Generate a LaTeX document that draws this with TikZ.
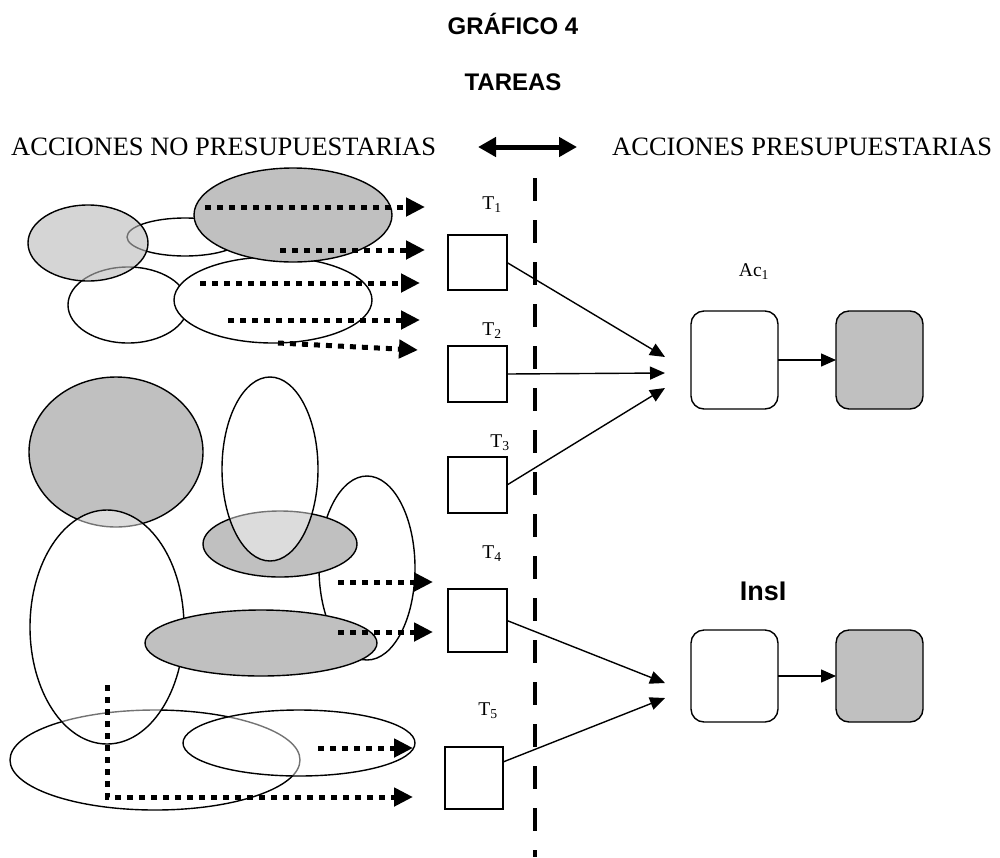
\documentclass[tikz,border=0pt]{standalone}
\usepackage{fontspec}
\setmainfont{Liberation Serif}
\newfontfamily\arialfont{Liberation Sans}
\usetikzlibrary{arrows.meta,calc}
\definecolor{shade}{RGB}{192,192,192}
\definecolor{stip}{RGB}{185,185,185}
\tikzset{
  blob/.style={draw=black, line width=1.4pt, fill=white},
  greyblob/.style={draw=black, line width=1.4pt, fill=shade},
  haze/.style={draw=black, line width=1.4pt, fill=white, fill opacity=0.45},
  stipblob/.style={draw=black, line width=1.4pt, fill=stip, fill opacity=0.6},
  dotarrow/.style={line width=5pt, dash pattern=on 6pt off 6pt,
    -{Triangle[length=19pt,width=18pt]}},
  solidarrow/.style={line width=1.4pt, -{Triangle[length=15pt,width=13pt]}},
  divider/.style={line width=4pt, dash pattern=on 23pt off 19pt},
  taskbox/.style={draw=black, line width=1.4pt, fill=white, inner sep=0pt, outer sep=0pt},
  actbox/.style={draw=black, line width=1.4pt, rounded corners=13pt, inner sep=0pt,
    outer sep=0pt, minimum width=87pt},
  tlabel/.style={anchor=base, inner sep=0pt, font=\fontsize{19.5}{22}\selectfont},
  heading/.style={anchor=base, inner sep=0pt, font=\arialfont\bfseries\fontsize{24}{28}\selectfont},
  side/.style={inner sep=0pt, font=\fontsize{26.5}{30}\selectfont}
}
\begin{document}
\begin{tikzpicture}[x=1pt,y=-1pt]
\useasboundingbox (0,0) rectangle (1000,857);

% headings
\node[heading] (title) at (513,34) {GRÁFICO 4};
\node[heading] (sub) at (513,90) {TAREAS};
\node[side, anchor=base west] (nopres) at (11,155) {ACCIONES NO PRESUPUESTARIAS};
\node[side, anchor=base west] (pres) at (612,155) {ACCIONES PRESUPUESTARIAS};
\coordinate (dl) at (478,147);
\coordinate (dr) at (577,147);
\draw[line width=5pt, {Triangle[length=18pt,width=19pt]}-{Triangle[length=18pt,width=19pt]}] (dl) -- (dr);

% upper group of sets
\draw[blob] (185,237) ellipse [x radius=58, y radius=19];
\draw[blob] (128,305) ellipse [x radius=60, y radius=38];
\draw[blob] (273,300) ellipse [x radius=99, y radius=43];
\draw[greyblob] (293,215) ellipse [x radius=99, y radius=47];
\draw[stipblob] (88,243) ellipse [x radius=60, y radius=38];

% middle and lower groups of sets
\draw[greyblob] (116,452) ellipse [x radius=87, y radius=75];
\draw[blob] (155,760) ellipse [x radius=145, y radius=50];
\draw[blob] (367,568) ellipse [x radius=48, y radius=92];
\draw[greyblob] (280,544) ellipse [x radius=77, y radius=33];
\draw[haze] (270,469) ellipse [x radius=48, y radius=92];
\draw[haze] (107,627) ellipse [x radius=77, y radius=117];
\draw[haze] (299,743) ellipse [x radius=116, y radius=33];
\draw[greyblob] (261,643) ellipse [x radius=116, y radius=33];

% divider between the two kinds of actions
\coordinate (vtop) at (535,178);
\coordinate (vbot) at (535,857);
\draw[divider] (vtop) -- (vbot);

% tasks
\node[taskbox, minimum width=59pt, minimum height=55pt] (t1) at (477.5,262.5) {};
\node[taskbox, minimum width=59pt, minimum height=56pt] (t2) at (477.5,374) {};
\node[taskbox, minimum width=59pt, minimum height=56pt] (t3) at (477.5,485) {};
\node[taskbox, minimum width=59pt, minimum height=63pt] (t4) at (477.5,620.5) {};
\node[taskbox, minimum width=58pt, minimum height=62pt] (t5) at (474,778) {};
\node[tlabel] (lt1) at (492,209) {T\textsubscript{1}};
\node[tlabel] (lt2) at (492,335) {T\textsubscript{2}};
\node[tlabel] (lt3) at (500,447) {T\textsubscript{3}};
\node[tlabel] (lt4) at (492,558) {T\textsubscript{4}};
\node[tlabel] (lt5) at (488,715) {T\textsubscript{5}};

% budget actions
\node[actbox, minimum height=98pt] (ac) at (734.5,360) {};
\node[actbox, minimum height=98pt, fill=shade] (acg) at (879.5,360) {};
\node[actbox, minimum height=92pt] (ins) at (734.5,676) {};
\node[actbox, minimum height=92pt, fill=shade] (insg) at (879.5,676) {};
\node[tlabel] (lac) at (754,276) {Ac\textsubscript{1}};
\node[heading, font=\arialfont\bfseries\fontsize{27}{30}\selectfont] (lins) at (763,600) {InsI};

\draw[solidarrow] (ac.east) -- (acg.west);
\draw[solidarrow] (ins.east) -- (insg.west);

% task to action connectors
\coordinate (in1) at (665,357);
\coordinate (in2) at (665,373);
\coordinate (in3) at (665,388);
\coordinate (in4) at (665,683);
\coordinate (in5) at (665,698);
\draw[solidarrow] (t1.east) -- (in1);
\draw[solidarrow] (t2.east) -- (in2);
\draw[solidarrow] (t3.east) -- (in3);
\draw[solidarrow] (t4.east) -- (in4);
\draw[solidarrow] ($(t5.east)+(0,-16)$) -- (in5);

% dotted links from the sets toward the tasks
\coordinate (s1) at (205,207);  \coordinate (e1) at (425,207);
\coordinate (s2) at (280,250);  \coordinate (e2) at (425,250);
\coordinate (s3) at (200,283);  \coordinate (e3) at (420,283);
\coordinate (s4) at (228,320);  \coordinate (e4) at (420,320);
\coordinate (s5) at (278,343);  \coordinate (e5) at (418,350);
\coordinate (s6) at (338,582);  \coordinate (e6) at (433,582);
\coordinate (s7) at (338,632);  \coordinate (e7) at (433,632);
\coordinate (s8) at (318,748);  \coordinate (e8) at (413,748);
\coordinate (s9) at (107,685);  \coordinate (e9) at (413,797);
\draw[dotarrow] (s1) -- (e1);
\draw[dotarrow] (s2) -- (e2);
\draw[dotarrow] (s3) -- (e3);
\draw[dotarrow] (s4) -- (e4);
\draw[dotarrow] (s5) -- (e5);
\draw[dotarrow] (s6) -- (e6);
\draw[dotarrow] (s7) -- (e7);
\draw[dotarrow] (s8) -- (e8);
\draw[dotarrow] (s9) |- (e9);
\end{tikzpicture}
\end{document}
